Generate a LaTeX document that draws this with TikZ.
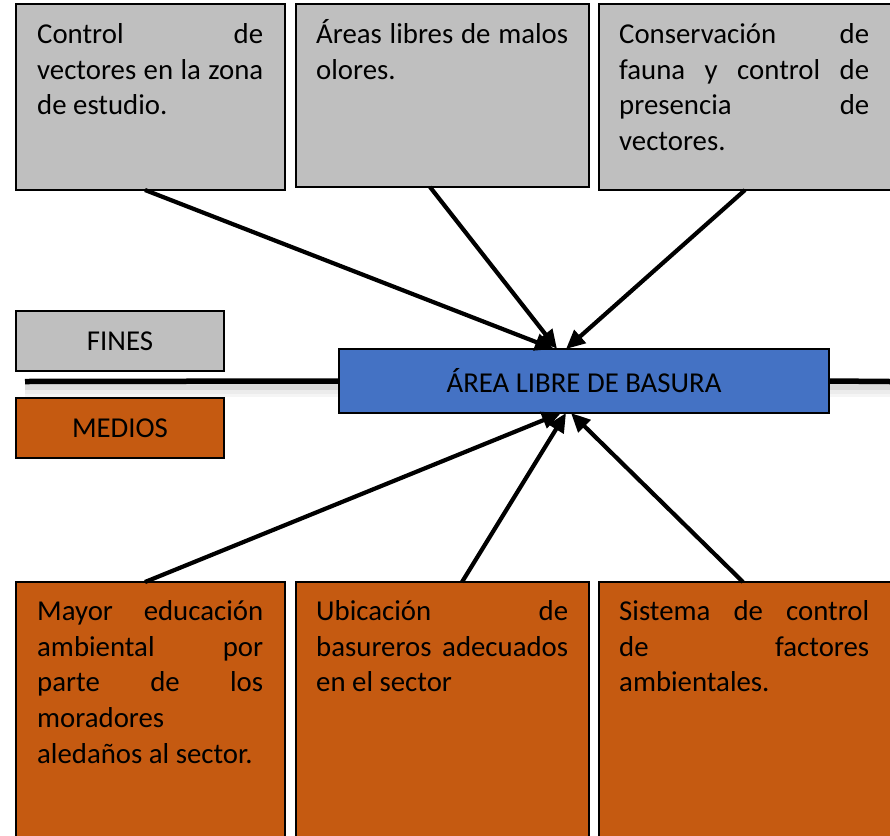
\documentclass[tikz,border=0pt]{standalone}
\usepackage{fontspec}
\setmainfont{Carlito}
\usetikzlibrary{arrows.meta}
\definecolor{boxgray}{HTML}{BFBFBF}
\definecolor{boxorange}{HTML}{C55A11}
\definecolor{boxblue}{HTML}{4472C4}
\newcommand{\jline}[2]{\makebox[#1pt][s]{#2}}
\newcommand{\topstrut}{\rule{0pt}{25pt}}
\begin{document}
\begin{tikzpicture}[x=1pt,y=-1pt,
  box/.style={draw=black, line width=1.7pt, anchor=north west, inner sep=0pt, outer sep=0pt},
  fin/.style={box, fill=boxgray},
  med/.style={box, fill=boxorange},
  txt/.style={anchor=north west, inner sep=0pt, align=left, font=\fontsize{28.8}{35.8}\selectfont},
  lbl/.style={font=\fontsize{28.8}{35.8}\selectfont, inner sep=0pt},
  arr/.style={line width=4.2pt, -{Triangle[length=19pt,width=17pt]}},
  axis/.style={line width=5.5pt}]
\useasboundingbox (0,0) rectangle (890,835);
\clip (0,0) rectangle (890,835);

% soft shadow of the axis line
\draw[line width=14pt, gray!8] (25,390) -- (890,390);
\draw[line width=10pt, gray!15] (25,389) -- (890,389);
\draw[line width=6pt, gray!28] (25,387) -- (890,387);

% upper boxes (fines)
\node[fin, minimum width=269pt, minimum height=186pt] (f1) at (16,4) {};
\node[fin, minimum width=293pt, minimum height=183pt] (f2) at (296,4) {};
\node[fin, minimum width=300pt, minimum height=186pt] (f3) at (599,4) {};

% lower boxes (medios)
\node[med, minimum width=269pt, minimum height=260pt] (m1) at (16,582) {};
\node[med, minimum width=293pt, minimum height=260pt] (m2) at (296,582) {};
\node[med, minimum width=300pt, minimum height=260pt] (m3) at (599,582) {};

% legend boxes
\node[fin, minimum width=208pt, minimum height=60pt] (fines) at (16,311) {};
\node[lbl] (finest) at (fines.center) {FINES};
\node[med, minimum width=208pt, minimum height=60pt] (medios) at (16,398) {};
\node[lbl] (mediost) at (medios.center) {MEDIOS};

% central box
\node[box, fill=boxblue, minimum width=490pt, minimum height=64pt] (c) at (339,349) {};
\node[lbl] (ct) at (c.center) {ÁREA LIBRE DE BASURA};

% axis line
\draw[axis] (25,381.5) -- (c.west);
\draw[axis] (c.east) -- (890,381.5);

% texts
\node[txt] (t1) at (37,18) {\topstrut\jline{226}{Control de}\\\jline{226}{vectores en la zona}\\de estudio.};
\node[txt] (t2) at (316,18) {\topstrut\jline{252}{Áreas libres de malos}\\olores.};
\node[txt] (t3) at (619,18) {\topstrut\jline{250}{Conservación de}\\\jline{250}{fauna y control de}\\\jline{250}{presencia de}\\vectores.};
\node[txt] (t4) at (37,595) {\topstrut\jline{226}{Mayor educación}\\\jline{226}{ambiental por}\\\jline{226}{parte de los}\\moradores\\aledaños al sector.};
\node[txt] (t5) at (316,595) {\topstrut\jline{252}{Ubicación de}\\\jline{252}{basureros adecuados}\\en el sector};
\node[txt] (t6) at (619,595) {\topstrut\jline{250}{Sistema de control}\\\jline{250}{de factores}\\ambientales.};

% arrows
\draw[arr] ([xshift=129pt]f1.south west) -- ([xshift=-30pt]c.north);
\draw[arr] ([xshift=134pt]f2.south west) -- ([xshift=-27pt]c.north);
\draw[arr] ([xshift=146pt]f3.south west) -- ([xshift=-18pt]c.north);
\draw[arr] ([xshift=129pt]m1.north west) -- ([xshift=-23pt]c.south);
\draw[arr] ([xshift=166pt]m2.north west) -- ([xshift=-18pt]c.south);
\draw[arr] ([xshift=144pt]m3.north west) -- ([xshift=-13pt]c.south);
\end{tikzpicture}
\end{document}
